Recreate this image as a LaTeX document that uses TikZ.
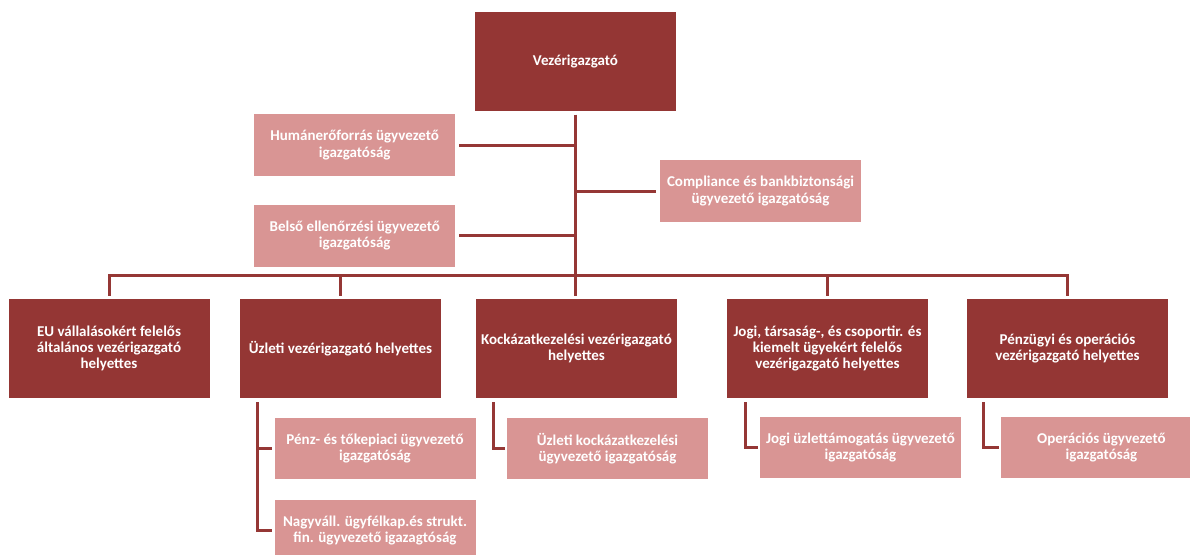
\documentclass[tikz,border=0pt]{standalone}
\usepackage{fontspec}
\setmainfont{Carlito}
\definecolor{dkred}{RGB}{148,54,52}
\definecolor{pinkbox}{RGB}{217,149,148}
\definecolor{linered}{RGB}{149,55,53}
\begin{document}
\begin{tikzpicture}[x=1pt,y=-1pt,
  box/.style={rectangle, inner sep=0pt, minimum width=201pt, align=center, text=white, font=\fontsize{15}{16.2}\selectfont\bfseries},
  boss/.style={box, fill=dkred, minimum height=99pt},
  staff/.style={box, fill=pinkbox, minimum height=62pt},
  sub/.style={box, fill=pinkbox, minimum height=61pt},
  link/.style={draw=linered, line width=3pt}]
\clip (0,0) rectangle (1190,554);
\fill[white] (0,0) rectangle (1190,554);
% top
\node[boss] (ceo) at (575.5,61.3) {Vezérigazgató};
\node[staff] (hr) at (354.75,145) {Humánerőforrás ügyvezető\\igazgatóság};
\node[staff] (audit) at (354.75,235.5) {Belső ellenőrzési ügyvezető\\igazgatóság};
\node[staff] (comp) at (760.5,191) {Compliance és bankbiztonsági\\ügyvezető igazgatóság};
% deputies
\node[boss] (d1) at (109,348.5) {EU vállalásokért felelős\\általános vezérigazgató\\helyettes};
\node[boss] (d2) at (340.5,348.5) {Üzleti vezérigazgató helyettes};
\node[boss] (d3) at (576.5,348.5) {Kockázatkezelési vezérigazgató\\helyettes};
\node[boss] (d4) at (827.5,348.5) {Jogi, társaság-, és csoportir. és\\kiemelt ügyekért felelős\\vezérigazgató helyettes};
\node[boss] (d5) at (1067.5,348.5) {Pénzügyi és operációs\\vezérigazgató helyettes};
% sub units
\node[sub] (s21) at (375,448.5) {Pénz- és tőkepiaci ügyvezető\\igazgatóság};
\node[sub] (s22) at (375,530.5) {Nagyváll. ügyfélkap.és strukt.\\fin. ügyvezető igazagtóság};
\node[sub] (s3) at (607.5,448.5) {Üzleti kockázatkezelési\\ügyvezető igazgatóság};
\node[sub] (s4) at (860.5,447.5) {Jogi üzlettámogatás ügyvezető\\igazgatóság};
\node[sub] (s5) at (1101.5,447.5) {Operációs ügyvezető\\igazgatóság};
% trunk
\coordinate (t3) at (ceo.south |- d3.north);
\draw[link] ([yshift=-3.5pt]ceo.south) -- ([yshift=3pt]t3);
% staff links
\draw[link] ([xshift=4pt]hr.east) -- (hr.east -| ceo.south);
\draw[link] ([xshift=4pt]audit.east) -- (audit.east -| ceo.south);
\draw[link] (comp.west -| ceo.south) -- ([xshift=-4pt]comp.west);
% bus
\coordinate (bus) at (0,275);
\draw[link, line cap=rect] (d1.north |- bus) -- (d5.north |- bus);
\foreach \d in {d1,d2,d4,d5}{
  \draw[link] (\d.north |- bus) -- ([yshift=2.5pt]\d.north);
}
% brackets
\coordinate (b2) at ([xshift=18pt,yshift=-4pt]d2.south west);
\draw[link] (b2) |- ([xshift=-2pt]s22.west);
\draw[link] (b2 |- s21.west) -- ([xshift=-2pt]s21.west);
\draw[link] ([xshift=18pt,yshift=-4pt]d3.south west) |- ([xshift=-2pt]s3.west);
\draw[link] ([xshift=19pt,yshift=-4pt]d4.south west) |- ([xshift=-2pt]s4.west);
\draw[link] ([xshift=17pt,yshift=-4pt]d5.south west) |- ([xshift=-2pt]s5.west);
\end{tikzpicture}
\end{document}
